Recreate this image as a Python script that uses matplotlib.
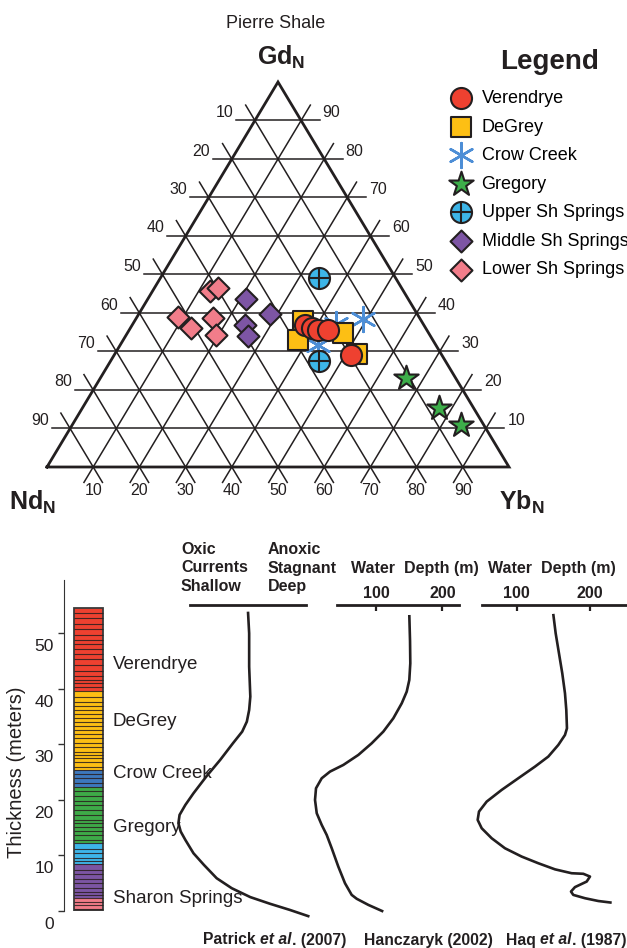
import numpy as np
import matplotlib
matplotlib.use("Agg")
import matplotlib.pyplot as plt
from matplotlib.transforms import ScaledTranslation

plt.rcParams["font.family"] = "Liberation Sans"
plt.rcParams["mathtext.fontset"] = "custom"
plt.rcParams["mathtext.rm"] = "Liberation Sans"
plt.rcParams["mathtext.bf"] = "Liberation Sans:bold"
plt.rcParams["mathtext.it"] = "Liberation Sans:italic"

W, H = 627, 948
INK = "#231F20"

# --- ternary data, percent (Nd, Gd, Yb) ---
verendrye = [(25.7, 36.9, 37.4), (24.6, 36.1, 39.3), (23.5, 35.6, 40.9), (21.4, 35.6, 43.0), (19.7, 29.1, 51.2)]
degrey = [(25.7, 37.9, 36.4), (29.2, 33.0, 37.8), (18.5, 34.8, 46.7), (18.3, 29.4, 52.3)]
crow_creek = [(12.4, 38.4, 49.2), (25.4, 31.7, 42.9), (18.9, 37.1, 44.0)]
gregory = [(10.8, 23.1, 66.1), (7.5, 15.3, 77.2), (4.9, 10.9, 84.2)]
upper_ss = [(16.6, 49.1, 34.3), (27.4, 27.5, 45.1)]
middle_ss = [(35.1, 43.6, 21.3), (31.9, 39.7, 28.4), (38.6, 36.9, 24.5), (39.5, 34.0, 26.5)]
lower_ss = [(41.9, 45.7, 12.4), (39.7, 46.5, 13.8), (52.1, 39.0, 8.9),
            (50.8, 36.1, 13.1), (44.8, 38.7, 16.5), (46.2, 34.3, 19.5)]
tern_ticks = [10, 20, 30, 40, 50, 60, 70, 80, 90]

# --- stratigraphic column (meters) ---
unit_bounds = [0.0, 0.4, 2.4, 8.4, 12.2, 22.4, 25.4, 39.6, 54.5]
unit_colors = ["#6B4E4E", "#F07B87", "#7B55A3", "#3DB5E8", "#3EAA48", "#3C78BD", "#FDBF14", "#EE4130"]
bed_lines = [53.7, 52.7, 51.7, 50.8, 49.7, 48.8, 48.1, 47.2, 46.3, 45.4, 44.3, 43.3, 42.3, 41.6,
             41.0, 40.3, 38.6, 37.7, 36.9, 36.2, 35.4, 34.7, 34.1, 33.3, 32.6, 31.8, 31.1, 30.3,
             29.6, 28.7, 28.1, 27.5, 26.8, 26.0, 24.6, 23.9, 23.0, 21.6, 20.7, 19.8, 19.0, 18.1,
             17.2, 16.3, 15.8, 15.2, 14.4, 13.6, 12.8, 11.2, 10.4, 9.6, 9.0, 7.4, 6.6, 5.8, 5.0,
             4.2, 3.5, 2.9, 1.7, 1.0]
unit_names = ["Verendrye", "DeGrey", "Crow Creek", "Gregory", "Sharon Springs"]
unit_label_y = [44.3, 34.2, 24.7, 15.1, 2.3]

# --- curves ---
patrick_x = [0.50, 0.51, 0.51, 0.52, 0.51, 0.49, 0.45, 0.37, 0.26, 0.14, 0.03, -0.04, -0.09, -0.10,
             -0.08, -0.04, 0.03, 0.12, 0.23, 0.36, 0.52, 0.69, 0.86, 1.03]
patrick_y = [53.9, 50.0, 44.0, 38.6, 36.2, 34.1, 32.3, 30.2, 27.2, 24.2, 21.2, 19.1, 17.3, 15.8,
             14.3, 12.8, 10.4, 8.3, 5.9, 4.1, 2.5, 1.3, 0.2, -1.0]
hancz_depth = [150.2, 151.3, 151.7, 150.2, 146.3, 138.8, 126.1, 111.0, 93.5, 73.3, 50.7, 30.6, 18.1,
               9.5, 8.0, 10.6, 18.1, 25.6, 33.2, 43.1, 53.2, 63.3, 70.9, 88.4, 111.0]
hancz_y = [53.3, 48.6, 44.6, 41.6, 39.5, 37.4, 34.7, 32.3, 30.2, 28.1, 26.3, 25.1, 23.9, 22.1, 20.0,
           17.6, 15.5, 13.7, 11.3, 8.0, 5.0, 2.9, 2.2, 1.1, -0.1]
haq_depth = [149.9, 153.2, 157.7, 162.2, 165.9, 167.7, 168.6, 165.9, 156.8, 143.1, 125.0, 102.2, 79.5,
             59.1, 48.6, 46.8, 52.3, 65.9, 84.0, 106.8, 129.5, 152.3, 175.0, 190.9, 200.0, 195.5,
             179.5, 174.1, 177.2, 193.2, 211.3, 229.6]
haq_y = [53.5, 50.0, 46.4, 42.8, 39.2, 36.2, 32.9, 31.7, 29.9, 27.8, 26.0, 23.9, 21.8, 19.7, 17.9,
         16.4, 14.9, 13.1, 11.3, 9.8, 8.6, 7.5, 6.8, 6.7, 6.2, 5.3, 4.3, 3.5, 2.9, 2.3, 1.8, 1.5]


def fx(px):
    return px / W


def fy(py):
    return 1 - py / H


def tern(nd, gd, yb):
    return yb + gd / 2.0, gd


def tern_pts(pts):
    a = np.asarray(pts, float) / 100.0
    return a[:, 2] + a[:, 1] / 2.0, a[:, 1]


def main():
    fig = plt.figure(figsize=(W / 100, H / 100), dpi=100)

    # ---------------- ternary ----------------
    ax = fig.add_axes([0, fy(520), 1, 520 / H])
    ax.set_xlim(-47 / 462, 580 / 462)
    ax.set_ylim(-53 / 385, 467 / 385)
    ax.axis("off")

    e = 0.04
    tk = dict(fontsize=11.5, color=INK, va="center", textcoords="offset pixels")
    for v in tern_ticks:
        t = v / 100.0
        for a, b in [((1 - t + e, t, -e), (-e, t, 1 - t + e)),
                     ((t, 1 - t + e, -e), (t, -e, 1 - t + e)),
                     ((-e, 1 - t + e, t), (1 - t + e, -e, t))]:
            x0, y0 = tern(*a)
            x1, y1 = tern(*b)
            ax.plot([x0, x1], [y0, y1], color=INK, lw=1.1, zorder=1)
        # Nd on the left, Gd on the right, Yb along the bottom
        ax.annotate(str(v), tern(t + e, 1 - t, -e), xytext=(-3, 8), ha="right", **tk)
        ax.annotate(str(100 - v), tern(-e, 1 - t, t + e), xytext=(3, 8), ha="left", **tk)
        ax.annotate(str(v), tern(1 - t, 0, t), xytext=(0, -24), ha="center", **tk)

    corners = [tern(1, 0, 0), tern(0, 0, 1), tern(0, 1, 0), tern(1, 0, 0)]
    ax.plot([c[0] for c in corners], [c[1] for c in corners], color=INK, lw=2.0,
            solid_joinstyle="miter", zorder=2)

    kw = dict(edgecolors=INK, linewidths=1.5, zorder=5)
    h_cc = ax.scatter(*tern_pts(crow_creek), marker=(6, 2, 0), s=320, color="#4D8ED6", linewidths=1.8, zorder=4)
    h_deg = ax.scatter(*tern_pts(degrey), marker="s", s=200, c="#FDBF14", **kw)
    h_ver = ax.scatter(*tern_pts(verendrye), marker="o", s=230, c="#EE4130", **kw)
    h_gre = ax.scatter(*tern_pts(gregory), marker="*", s=340, c="#3DAE4A", **kw)
    h_up = ax.scatter(*tern_pts(upper_ss), marker="o", s=230, c="#3DB5E8", **kw)
    h_up2 = ax.scatter(*tern_pts(upper_ss), marker="+", s=210, c=INK, linewidths=1.5, zorder=6)
    h_mid = ax.scatter(*tern_pts(middle_ss), marker="D", s=125, c="#7D55A4", **kw)
    h_low = ax.scatter(*tern_pts(lower_ss), marker="D", s=125, c="#F27D8A", **kw)

    ax.legend([h_ver, h_deg, h_cc, h_gre, (h_up, h_up2), h_mid, h_low],
              ["Verendrye", "DeGrey", "Crow Creek", "Gregory", "Upper Sh Springs",
               "Middle Sh Springs", "Lower Sh Springs"],
              loc="upper left", bbox_to_anchor=(fx(450), fy(90)), bbox_transform=fig.transFigure,
              frameon=False, fontsize=13, handlelength=1.2, handletextpad=0.55, labelspacing=0.64,
              borderpad=0, borderaxespad=0, scatterpoints=1)
    fig.text(fx(550), fy(62), "Legend", ha="center", va="center", fontsize=20, fontweight="bold", color=INK)

    fig.text(fx(276), fy(23), "Pierre Shale", ha="center", va="center", fontsize=13, color=INK)
    fig.text(fx(281), fy(57), r"$\mathbf{Gd}_\mathbf{N}$", ha="center", va="center", fontsize=18, color=INK)
    fig.text(fx(32), fy(502), r"$\mathbf{Nd}_\mathbf{N}$", ha="center", va="center", fontsize=18, color=INK)
    fig.text(fx(522), fy(502), r"$\mathbf{Yb}_\mathbf{N}$", ha="center", va="center", fontsize=18, color=INK)

    # ---------------- strat column ----------------
    ybot, ytop = 911, 580
    ymax = 59.6
    axh = (ybot - ytop) / H
    axc = fig.add_axes([fx(64), fy(ybot), 46 / W, axh])
    axc.set_xlim(0, 46)
    axc.set_ylim(0, ymax)
    for i, col in enumerate(unit_colors):
        axc.bar(24.5, unit_bounds[i + 1] - unit_bounds[i], bottom=unit_bounds[i], width=29,
                color=col, edgecolor="none")
    axc.hlines(bed_lines + unit_bounds[1:-1], 10, 39, color="#2A1E1E", lw=0.8, alpha=0.85)
    axc.bar(24.5, unit_bounds[-1], bottom=0, width=29, facecolor="none", edgecolor="#3A3A3A", lw=1.3)
    for name, yy in zip(unit_names, unit_label_y):
        axc.text(49, yy, name, ha="left", va="center", fontsize=13.5, color=INK, clip_on=False)
    for s in ["top", "right", "bottom"]:
        axc.spines[s].set_visible(False)
    axc.spines["left"].set_color("#333333")
    axc.set_xticks([])
    axc.set_yticks([0, 10, 20, 30, 40, 50])
    axc.tick_params(axis="y", length=4, width=1, color="#333333", labelsize=12.5, labelcolor=INK)
    shift = ScaledTranslation(0, -0.12, fig.dpi_scale_trans)
    for lab in axc.get_yticklabels():
        lab.set_transform(lab.get_transform() + shift)
    axc.set_ylabel("Thickness (meters)", fontsize=14.5, color=INK)
    axc.yaxis.set_label_coords(-0.83, 0.42)

    top_line = 55.1

    def curve_axes(x0, x1, xlim, ticks):
        a = fig.add_axes([fx(x0), fy(ybot), (x1 - x0) / W, axh])
        a.set_xlim(*xlim)
        a.set_ylim(0, ymax)
        for s in ["left", "right", "bottom"]:
            a.spines[s].set_visible(False)
        a.spines["top"].set_position(("data", top_line))
        a.spines["top"].set_linewidth(2.0)
        a.spines["top"].set_color(INK)
        a.set_yticks([])
        a.xaxis.tick_top()
        a.set_xticks(ticks)
        a.tick_params(axis="x", direction="in", length=4, width=1.6, color=INK, pad=3,
                      labelsize=11.5, labelcolor=INK)
        for lab in a.get_xticklabels():
            lab.set_fontweight("bold")
        a.patch.set_visible(False)
        return a

    ax1 = curve_axes(190, 306, (0, 1), [])
    ax2 = curve_axes(336.7, 459.3, (40.7, 225.6), [100, 200])
    ax3 = curve_axes(481.7, 627, (52.3, 250.5), [100, 200])
    for a, xs, ys in [(ax1, patrick_x, patrick_y), (ax2, hancz_depth, hancz_y), (ax3, haq_depth, haq_y)]:
        a.plot(xs, ys, color=INK, lw=1.9, clip_on=False, solid_joinstyle="round", solid_capstyle="butt")

    hk = dict(fontsize=11.5, fontweight="bold", color=INK, va="center", ha="left", linespacing=1.32)
    fig.text(fx(181), fy(568), "Oxic\nCurrents\nShallow", **hk)
    fig.text(fx(268), fy(568), "Anoxic\nStagnant\nDeep", **hk)
    fig.text(fx(351), fy(568), "Water  Depth (m)", **hk)
    fig.text(fx(488), fy(568), "Water  Depth (m)", **hk)

    # citations
    ck = dict(fontsize=11.3, fontweight="bold", color=INK)
    t = fig.text(fx(203), fy(940), "Patrick ", va="center", ha="left", **ck)
    t = ax1.annotate("et al", xy=(1, 0), xycoords=t, va="bottom", ha="left", style="italic", **ck)
    ax1.annotate(". (2007)", xy=(1, 0), xycoords=t, va="bottom", ha="left", **ck)
    fig.text(fx(364), fy(940), "Hanczaryk (2002)", va="center", ha="left", **ck)
    t = fig.text(fx(506), fy(940), "Haq ", va="center", ha="left", **ck)
    t = ax3.annotate("et al", xy=(1, 0), xycoords=t, va="bottom", ha="left", style="italic", **ck)
    ax3.annotate(". (1987)", xy=(1, 0), xycoords=t, va="bottom", ha="left", **ck)

    fig.savefig("out.png", dpi=100)


if __name__ == "__main__":
    main()
